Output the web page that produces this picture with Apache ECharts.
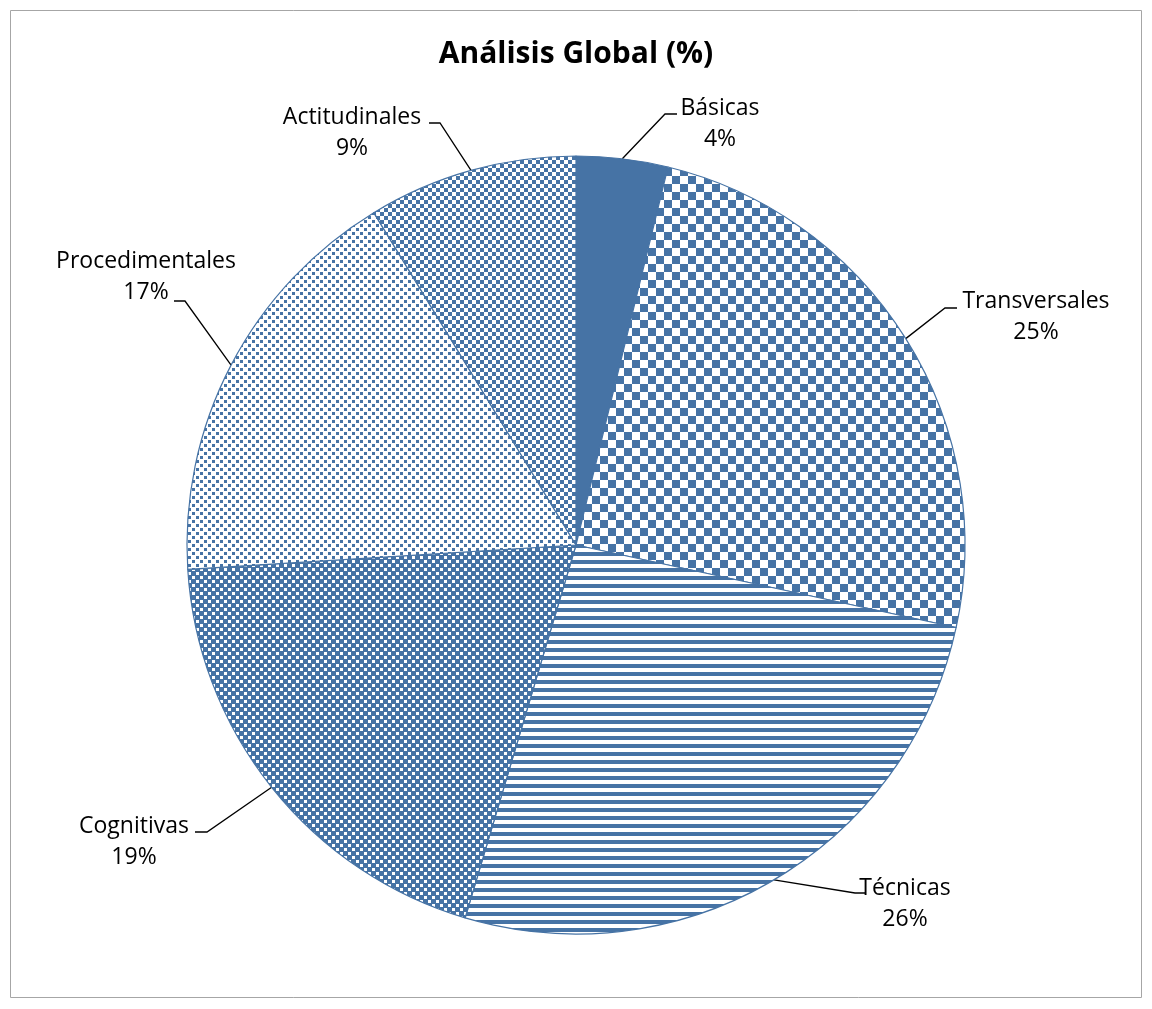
<!DOCTYPE html>
<html>
<head>
<meta charset="utf-8">
<script src="https://cdn.jsdelivr.net/npm/echarts@6/dist/echarts.min.js"></script>
<style>
html,body{margin:0;padding:0;background:#fff;}
#chart{width:1152px;height:1009px;}
</style>
</head>
<body>
<div id="chart"></div>
<script>
// ---- data ----
const categories = ['Básicas', 'Transversales', 'Técnicas', 'Cognitivas', 'Procedimentales', 'Actitudinales'];
const values = [3.8, 24.6, 26.2, 19.4, 17.3, 8.7];
const titleText = 'Análisis Global (%)';

// ---- label layout (label centre, leader elbow, leader end) ----
const labelSpecs = [
  {x: 720, y: 124, ex: 665, ey: 114, hx: 677},
  {x: 1036, y: 317, ex: 945, ey: 308, hx: 957},
  {x: 905, y: 904, ex: 855, ey: 893, hx: 866},
  {x: 134, y: 842, ex: 207, ey: 832, hx: 195},
  {x: 146, y: 277, ex: 185, ey: 301, hx: 174},
  {x: 352, y: 133, ex: 440, ey: 123, hx: 429}
];

const BLUE = '#4673A5';

function makeTile(w, h, bg, fg, rects) {
  const c = document.createElement('canvas');
  c.width = w; c.height = h;
  const ctx = c.getContext('2d');
  ctx.fillStyle = bg; ctx.fillRect(0, 0, w, h);
  ctx.fillStyle = fg;
  rects.forEach(r => ctx.fillRect(r[0], r[1], r[2], r[3]));
  return {image: c, repeat: 'repeat'};
}

const fills = [
  BLUE,
  makeTile(16, 16, '#fff', BLUE, [[0,0,8,8],[8,8,8,8]]),
  makeTile(8, 8, '#fff', BLUE, [[0,0,8,4]]),
  makeTile(8, 8, BLUE, '#fff', [[0,0,3,3],[4,4,3,3]]),
  makeTile(8, 8, '#fff', BLUE, [[0,0,3,3],[4,4,3,3]]),
  makeTile(8, 8, '#fff', BLUE, [[0,0,4,4],[4,4,4,4]])
];

const FONT = '"Open Sans", sans-serif';

const chart = echarts.init(document.getElementById('chart'));
chart.setOption({
  backgroundColor: '#fff',
  animation: false,
  title: {
    text: titleText,
    left: 'center',
    top: 34,
    textStyle: {fontFamily: FONT, fontSize: 30, fontWeight: 'bold', color: '#000'}
  },
  graphic: [{
    type: 'rect',
    shape: {x: 10.5, y: 10.5, width: 1131, height: 987},
    style: {fill: 'none', stroke: '#A6A6A6', lineWidth: 1},
    silent: true
  }],
  series: [{
    type: 'pie',
    center: [576, 545],
    radius: 389,
    startAngle: 90,
    clockwise: true,
    data: categories.map((c, i) => ({
      name: c, value: values[i],
      itemStyle: {color: fills[i]}
    })),
    itemStyle: {borderColor: BLUE, borderWidth: 1.2},
    label: {
      show: true,
      position: 'outside',
      formatter: p => p.name + '\n' + Math.round(p.percent) + '%',
      fontFamily: FONT,
      fontSize: 23,
      lineHeight: 31,
      color: '#000',
      align: 'center',
      overflow: 'none',
      bleedMargin: 0,
      edgeDistance: 0
    },
    labelLine: {show: true, lineStyle: {color: '#000', width: 1.3}, smooth: false},
    labelLayout: function (params) {
      const s = labelSpecs[params.dataIndex];
      const p0 = params.labelLinePoints ? params.labelLinePoints[0] : [s.ex, s.ey];
      return {
        x: s.x, y: s.y, align: 'center', verticalAlign: 'middle',
        labelLinePoints: [p0, [s.ex, s.ey], [s.hx, s.ey]]
      };
    },
    emphasis: {disabled: true}
  }]
});
</script>
</body>
</html>
